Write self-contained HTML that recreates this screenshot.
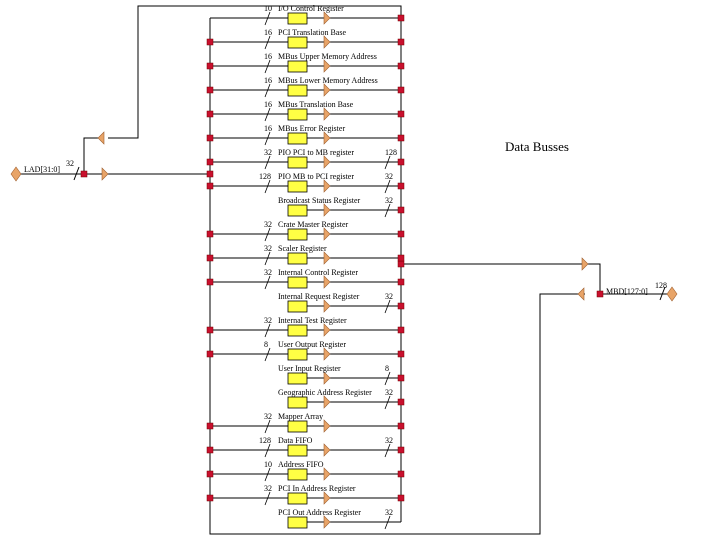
<!DOCTYPE html>
<html><head><meta charset="utf-8"><style>body{margin:0;background:#fff}svg{display:block}text{font-family:"Liberation Serif",serif;font-size:8px;fill:#000}</style></head><body>
<svg width="720" height="540" viewBox="0 0 720 540" xmlns="http://www.w3.org/2000/svg">
<defs>
<g id="bx"><rect x="288" y="-5" width="19" height="11" fill="#ffff44" stroke="#000" stroke-width="0.8"/><path d="M324,-6 L330,0 L324,6 Z" fill="#e8a468" stroke="#a06030" stroke-width="0.6"/></g>
<g id="ls"><line x1="265" y1="7" x2="270" y2="-6" stroke="#000" stroke-width="0.8"/></g>
<g id="rs"><line x1="385" y1="7" x2="390" y2="-6" stroke="#000" stroke-width="0.8"/></g>
<g id="ld"><rect x="207" y="-3" width="6" height="6" fill="#c8102e" stroke="#700" stroke-width="0.5"/></g>
<g id="rd"><rect x="398" y="-3" width="6" height="6" fill="#c8102e" stroke="#700" stroke-width="0.5"/></g>
<g id="fl"><line x1="210" y1="0" x2="401" y2="0" stroke="#000"/><use href="#bx"/><use href="#ls"/><use href="#ld"/><use href="#rd"/></g>
<g id="hr"><line x1="306" y1="0" x2="401" y2="0" stroke="#000"/><use href="#bx"/><use href="#rs"/><use href="#rd"/></g>
</defs>
<g stroke="#000" fill="none" stroke-width="1">
<polyline points="401,522 401,6 138,6 138,138 108,138"/>
<polyline points="210,18 210,534 540,534 540,294 585,294"/>
<polyline points="84,174 84,138 104,138"/>
<line x1="20" y1="174" x2="210" y2="174"/>
<polyline points="401,264 600,264 600,294 668,294"/>
<line x1="74" y1="180" x2="79" y2="167"/>
<line x1="660" y1="300" x2="665" y2="287"/>
</g>
<path d="M98,138 L104,132 L104,144 Z" fill="#e8a468" stroke="#a06030" stroke-width="0.6"/>
<path d="M102,168 L108,174 L102,180 Z" fill="#e8a468" stroke="#a06030" stroke-width="0.6"/>
<path d="M11,174 L16,167 L21,174 L16,181 Z" fill="#e8a468" stroke="#a06030" stroke-width="0.6"/>
<path d="M582,258 L588,264 L582,270 Z" fill="#e8a468" stroke="#a06030" stroke-width="0.6"/>
<path d="M578,294 L584,288 L584,300 Z" fill="#e8a468" stroke="#a06030" stroke-width="0.6"/>
<path d="M667,294 L672,287 L677,294 L672,301 Z" fill="#e8a468" stroke="#a06030" stroke-width="0.6"/>
<rect x="81" y="171" width="6" height="6" fill="#c8102e" stroke="#700" stroke-width="0.5"/>
<rect x="207" y="171" width="6" height="6" fill="#c8102e" stroke="#700" stroke-width="0.5"/>
<rect x="398" y="261" width="6" height="6" fill="#c8102e" stroke="#700" stroke-width="0.5"/>
<rect x="597" y="291" width="6" height="6" fill="#c8102e" stroke="#700" stroke-width="0.5"/>
<text x="24" y="172">LAD[31:0]</text><text x="66" y="166">32</text>
<text x="606" y="294">MBD[127:0]</text><text x="655" y="288">128</text>
<text x="505" y="151" style="font-size:13px">Data Busses</text>

<g transform="translate(0,18)"><line x1="210" y1="0" x2="401" y2="0" stroke="#000"/><use href="#bx"/><use href="#ls"/><use href="#rd"/><text x="264" y="-7">10</text><text x="278" y="-7">I/O Control Register</text></g>
<g transform="translate(0,42)"><use href="#fl"/><text x="264" y="-7">16</text><text x="278" y="-7">PCI Translation Base</text></g>
<g transform="translate(0,66)"><use href="#fl"/><text x="264" y="-7">16</text><text x="278" y="-7">MBus Upper Memory Address</text></g>
<g transform="translate(0,90)"><use href="#fl"/><text x="264" y="-7">16</text><text x="278" y="-7">MBus Lower Memory Address</text></g>
<g transform="translate(0,114)"><use href="#fl"/><text x="264" y="-7">16</text><text x="278" y="-7">MBus Translation Base</text></g>
<g transform="translate(0,138)"><use href="#fl"/><text x="264" y="-7">16</text><text x="278" y="-7">MBus Error Register</text></g>
<g transform="translate(0,162)"><use href="#fl"/><use href="#rs"/><text x="264" y="-7">32</text><text x="278" y="-7">PIO PCI to MB register</text><text x="385" y="-7">128</text></g>
<g transform="translate(0,186)"><use href="#fl"/><use href="#rs"/><text x="259" y="-7">128</text><text x="278" y="-7">PIO MB to PCI register</text><text x="385" y="-7">32</text></g>
<g transform="translate(0,210)"><use href="#hr"/><text x="278" y="-7">Broadcast Status Register</text><text x="385" y="-7">32</text></g>
<g transform="translate(0,234)"><use href="#fl"/><text x="264" y="-7">32</text><text x="278" y="-7">Crate Master Register</text></g>
<g transform="translate(0,258)"><use href="#fl"/><text x="264" y="-7">32</text><text x="278" y="-7">Scaler Register</text></g>
<g transform="translate(0,282)"><use href="#fl"/><text x="264" y="-7">32</text><text x="278" y="-7">Internal Control Register</text></g>
<g transform="translate(0,306)"><use href="#hr"/><text x="278" y="-7">Internal Request Register</text><text x="385" y="-7">32</text></g>
<g transform="translate(0,330)"><use href="#fl"/><text x="264" y="-7">32</text><text x="278" y="-7">Internal Test Register</text></g>
<g transform="translate(0,354)"><use href="#fl"/><text x="264" y="-7">8</text><text x="278" y="-7">User Output Register</text></g>
<g transform="translate(0,378)"><use href="#hr"/><text x="278" y="-7">User Input Register</text><text x="385" y="-7">8</text></g>
<g transform="translate(0,402)"><use href="#hr"/><text x="278" y="-7">Geographic Address Register</text><text x="385" y="-7">32</text></g>
<g transform="translate(0,426)"><use href="#fl"/><text x="264" y="-7">32</text><text x="278" y="-7">Mapper Array</text></g>
<g transform="translate(0,450)"><use href="#fl"/><use href="#rs"/><text x="259" y="-7">128</text><text x="278" y="-7">Data FIFO</text><text x="385" y="-7">32</text></g>
<g transform="translate(0,474)"><use href="#fl"/><text x="264" y="-7">10</text><text x="278" y="-7">Address FIFO</text></g>
<g transform="translate(0,498)"><use href="#fl"/><text x="264" y="-7">32</text><text x="278" y="-7">PCI In Address Register</text></g>
<g transform="translate(0,522)"><line x1="306" y1="0" x2="401" y2="0" stroke="#000"/><use href="#bx"/><use href="#rs"/><text x="278" y="-7">PCI Out Address Register</text><text x="385" y="-7">32</text></g>
</svg>
</body></html>
